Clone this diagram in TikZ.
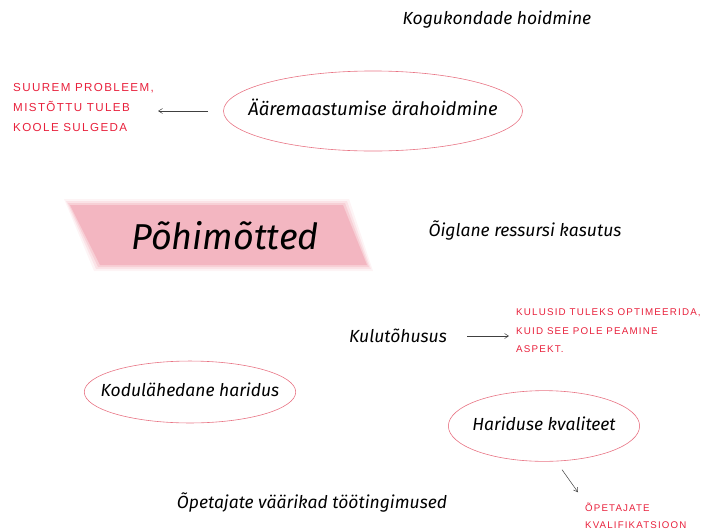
\documentclass[tikz,border=0pt]{standalone}
\usepackage{fontspec}
\setmainfont{Fira Sans}
\newfontfamily\handfont[LetterSpace=12]{Liberation Sans}
\usetikzlibrary{arrows.meta,shapes.geometric}
\definecolor{rimred}{HTML}{E87484}
\definecolor{notered}{HTML}{E8213C}
\definecolor{bandpink}{HTML}{F0A2AF}
\tikzset{
  idea/.style={font=\itshape\fontsize{17.5}{20}\selectfont, inner sep=2pt},
  ring/.style={idea, draw=rimred, line width=0.6pt, ellipse,
    text height=13pt, text depth=4pt},
  note/.style={text=notered, align=left, inner sep=1pt,
    font=\handfont\fontsize{9.8}{18.5}\selectfont},
  link/.style={-{Straight Barb[length=4pt,width=5pt]}, draw=black!75, line width=0.5pt}
}
\begin{document}
\begin{tikzpicture}[x=1pt,y=-1pt]
  \useasboundingbox (0,0) rectangle (705,531);
  % pink banner
  \foreach \o/\a in {6/0.12,4/0.2,2/0.3,0/0.55}{
    \fill[bandpink, opacity=\a]
      (70-\o,205-\o) -- (343+\o,205-\o) -- (367+\o,265+\o) -- (100-\o,265+\o) -- cycle;
  }
  \node[font=\itshape\fontsize{36}{40}\selectfont] (title) at (225,236) {Põhimõtted};

  \node[idea] (kogukond) at (497,20) {Kogukondade hoidmine};
  \node[ring, font=\itshape\fontsize{18.5}{20}\selectfont, inner xsep=-19pt, inner ysep=19.8pt] (aare) at (373,111) {Ääremaastumise ärahoidmine};
  \node[note, font=\handfont\fontsize{11.6}{20}\selectfont, anchor=west] (probleem) at (12,108)
    {SUUREM PROBLEEM,\\MISTÕTTU TULEB\\KOOLE SULGEDA};
  \node[idea] (oiglane) at (525,231) {Õiglane ressursi kasutus};
  \node[idea] (kulu) at (398,336) {Kulutõhusus};
  \node[note, anchor=west] (optim) at (515,331)
    {KULUSID TULEKS OPTIMEERIDA,\\KUID SEE POLE PEAMINE\\ASPEKT.};
  \node[ring, inner xsep=-14.5pt, inner ysep=13.4pt] (kodu) at (190,392) {Kodulähedane haridus};
  \node[ring, inner xsep=-4pt, inner ysep=16.5pt] (kvaliteet) at (544,426) {Hariduse kvaliteet};
  \node[idea] (opetajad) at (312,503) {Õpetajate väärikad töötingimused};
  \node[note, font=\handfont\fontsize{9.7}{16.5}\selectfont, anchor=west] (kvalif) at (584,516)
    {ÕPETAJATE\\KVALIFIKATSIOON};

  \draw[link, shorten <=15pt, shorten >=3pt] (aare.west) -- (probleem.east |- aare.west);
  \draw[link, shorten <=18pt, shorten >=6pt] (kulu.east) -- (optim.west |- kulu.east);
  \draw[link] ([shift={(18,8)}]kvaliteet.south) -- ([shift={(-6,-10)}]kvalif.north west);
\end{tikzpicture}
\end{document}
